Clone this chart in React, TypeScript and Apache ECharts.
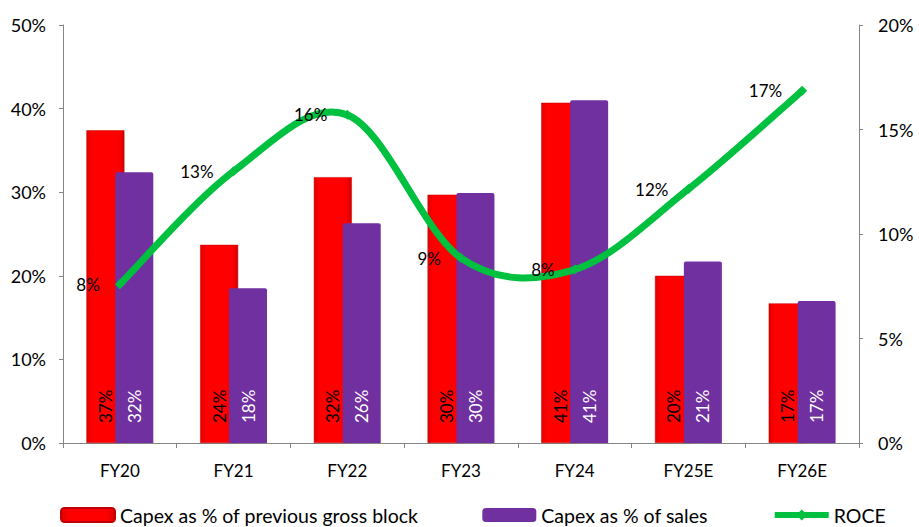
import React, { useEffect, useRef } from "react";
import * as echarts from "echarts";

const categories = ["FY20", "FY21", "FY22", "FY23", "FY24", "FY25E", "FY26E"];
const capexGrossBlock = [37.4, 23.7, 31.8, 29.7, 40.7, 20.0, 16.7];
const capexGrossBlockLabels = ["37%", "24%", "32%", "30%", "41%", "20%", "17%"];
const capexSales = [32.4, 18.5, 26.3, 29.9, 41.0, 21.7, 17.0];
const capexSalesLabels = ["32%", "18%", "26%", "30%", "41%", "21%", "17%"];
const roce = [7.6, 13.0, 15.7, 8.85, 8.3, 12.15, 16.85];
const roceLabels = ["8%", "13%", "16%", "9%", "8%", "12%", "17%"];

const FONT = "Lato, 'Liberation Sans', sans-serif";
const GREEN = "#00c040";

export default function App() {
  const ref = useRef<HTMLDivElement>(null);
  useEffect(() => {
    if (!ref.current) return;
    const chart = echarts.init(ref.current, undefined, { renderer: "svg" });
    const axisLineStyle = { color: "#868686", width: 1 };
    chart.setOption({
      animation: false,
      textStyle: { fontFamily: FONT },
      grid: { left: 63, right: 60, top: 25, bottom: 84 },
      legend: {
        top: 500,
        left: 55,
        itemGap: 64,
        itemWidth: 54,
        itemHeight: 14,
        textStyle: { fontFamily: FONT, fontSize: 19.5, color: "#000" },
        data: [
          { name: "Capex as % of previous gross block" },
          { name: "Capex as % of sales" },
          { name: "ROCE", lineStyle: { width: 6, opacity: 1, color: GREEN } },
        ],
      },
      xAxis: {
        type: "category",
        data: categories,
        axisLine: { lineStyle: axisLineStyle },
        axisTick: { show: true, length: 5, lineStyle: axisLineStyle },
        axisLabel: { color: "#000", fontSize: 17, fontFamily: FONT, margin: 19 },
      },
      yAxis: [
        {
          type: "value",
          min: 0,
          max: 50,
          interval: 10,
          splitLine: { show: false },
          axisLine: { show: true, lineStyle: axisLineStyle },
          axisTick: { show: true, length: 4, lineStyle: axisLineStyle },
          axisLabel: { formatter: "{value}%", color: "#000", fontSize: 18, fontFamily: FONT, margin: 17 },
        },
        {
          type: "value",
          min: 0,
          max: 20,
          interval: 5,
          position: "right",
          splitLine: { show: false },
          axisLine: { show: true, lineStyle: axisLineStyle },
          axisTick: { show: true, length: 4, lineStyle: axisLineStyle },
          axisLabel: { formatter: "{value}%", color: "#000", fontSize: 18, fontFamily: FONT, margin: 19 },
        },
      ],
      series: [
        {
          name: "Capex as % of previous gross block",
          type: "bar",
          data: capexGrossBlock,
          barWidth: 38,
          barGap: "-24%",
          itemStyle: {
            color: new echarts.graphic.LinearGradient(0, 0, 1, 0, [
              { offset: 0, color: "#e00000" },
              { offset: 0.15, color: "#ff0000" },
              { offset: 0.85, color: "#ff0000" },
              { offset: 1, color: "#d40000" },
            ]),
            borderColor: "#c00000",
            borderWidth: 0.5,
          },
          label: {
            show: true,
            position: "insideBottom",
            rotate: 90,
            align: "left",
            verticalAlign: "middle",
            distance: 20,
            formatter: (p: any) => capexGrossBlockLabels[p.dataIndex],
            color: "#000",
            fontSize: 17,
            fontFamily: FONT,
          },
        },
        {
          name: "Capex as % of sales",
          type: "bar",
          data: capexSales,
          barWidth: 38,
          itemStyle: { color: "#7030a0", borderRadius: [2, 2, 0, 0] },
          label: {
            show: true,
            position: "insideBottom",
            rotate: 90,
            align: "left",
            verticalAlign: "middle",
            distance: 20,
            formatter: (p: any) => capexSalesLabels[p.dataIndex],
            color: "#fff",
            fontSize: 17,
            fontFamily: FONT,
          },
        },
        {
          name: "ROCE curve",
          type: "custom",
          yAxisIndex: 1,
          silent: true,
          z: 4,
          data: roce.map((v, i) => [i, v]),
          encode: { x: 0, y: 1 },
          renderItem: (params: any, api: any) => {
            if (params.dataIndex !== 0) return null;
            const pts = roce.map((v, i) => api.coord([i, v]));
            const n = pts.length;
            let d = `M${pts[0][0]},${pts[0][1]}`;
            for (let i = 0; i < n - 1; i++) {
              const p0 = pts[Math.max(i - 1, 0)];
              const p1 = pts[i];
              const p2 = pts[i + 1];
              const p3 = pts[Math.min(i + 2, n - 1)];
              const c1x = p1[0] + (p2[0] - p0[0]) / 6;
              const c1y = p1[1] + (p2[1] - p0[1]) / 6;
              const c2x = p2[0] - (p3[0] - p1[0]) / 6;
              const c2y = p2[1] - (p3[1] - p1[1]) / 6;
              d += ` C${c1x},${c1y} ${c2x},${c2y} ${p2[0]},${p2[1]}`;
            }
            return {
              type: "path",
              shape: { pathData: d },
              style: { fill: "none", stroke: GREEN, lineWidth: 7, lineCap: "butt" },
            };
          },
        },
        {
          name: "ROCE",
          type: "line",
          yAxisIndex: 1,
          data: roce,
          symbol: "diamond",
          symbolSize: 10,
          lineStyle: { color: GREEN, width: 0, opacity: 0 },
          itemStyle: { color: GREEN },
          z: 5,
          label: {
            show: true,
            position: "left",
            distance: 15,
            formatter: (p: any) => roceLabels[p.dataIndex],
            color: "#000",
            fontSize: 17,
            fontFamily: FONT,
          },
        },
      ],
    });
    return () => chart.dispose();
  }, []);
  return <div ref={ref} style={{ width: 919, height: 527, position: "absolute", left: 0, top: 0 }} />;
}
